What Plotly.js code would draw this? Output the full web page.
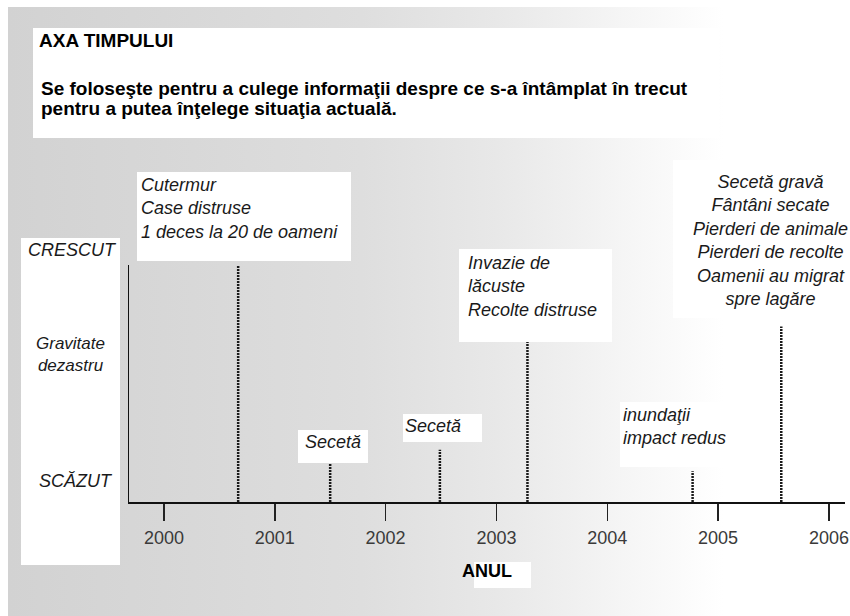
<!DOCTYPE html>
<html>
<head>
<meta charset="utf-8">
<script src="https://cdn.plot.ly/plotly-3.0.1.min.js"></script>
<style>
  html, body { margin: 0; padding: 0; background: #ffffff; }
  #chart {
    width: 850px; height: 616px;
    background: linear-gradient(to right, #d2d2d2 0%, #d8d8d8 22%, #dedede 42%, #e8e8e8 58%, #f5f5f5 73%, #ffffff 85%) 8px 7px / 842px 609px no-repeat, #ffffff;
  }
</style>
</head>
<body>
<div id="chart"></div>
<script>
// ---- data ----
const years = [2000, 2001, 2002, 2003, 2004, 2005, 2006];
const yearLabels = ['2000', '2001', '2002', '2003', '2004', '2005', '2006'];
const eventNames = ['Cutremur', 'Secetă', 'Secetă', 'Invazie de lăcuste', 'Inundații', 'Secetă gravă'];
const eventTimes = [2000.67, 2001.50, 2002.49, 2003.28, 2004.77, 2005.57];
const eventSeverity = [10.1, 1.6, 2.2, 6.75, 1.3, 7.4];
const eventTexts = [
  'Cutermur<br>Case distruse<br>1 deces la 20 de oameni',
  'Secetă',
  'Secetă',
  'Invazie de<br>lăcuste<br>Recolte distruse',
  'inundaţii<br>impact redus',
  'Secetă gravă<br>Fântâni secate<br>Pierderi de animale<br>Pierderi de recolte<br>Oamenii au migrat<br>spre lagăre'
];
const titleText = 'AXA TIMPULUI';
const subtitleLines = [
  'Se foloseşte pentru a culege informaţii despre ce s-a întâmplat în trecut',
  'pentru a putea înţelege situaţia actuală.'
];
const axisLabels = { high: 'CRESCUT', mid: 'Gravitate<br>dezastru', low: 'SCĂZUT', x: 'ANUL' };

// ---- geometry helpers (pixel -> paper fraction) ----
const L = 129, R = 845, T = 265, B = 502;
const fx = px => (px - L) / (R - L);
const fy = py => (B - py) / (B - T);

const FONT = 'Liberation Sans, Arial, Helvetica, sans-serif';
const ital = (size) => ({ family: FONT, size: size, color: '#1a1a1a', style: 'italic' });
const bold = (size) => ({ family: FONT, size: size, color: '#000', weight: 'bold' });

// ---- traces: one dotted stem per event ----
const traces = eventTimes.map((t, i) => ({
  type: 'scatter',
  mode: 'lines',
  x: [t, t],
  y: [0, eventSeverity[i]],
  name: eventNames[i],
  line: { color: '#1a1a1a', width: 2.5, dash: '2px,1px' },
  hoverinfo: 'x+name',
  cliponaxis: false,
  showlegend: false
}));

// ---- white boxes (decoration) ----
const boxes = [
  [33, 28, 719, 138],   // title box
  [21, 238, 120, 565],  // y labels box
  [137, 172, 351, 261], // earthquake
  [298, 430, 368, 463], // drought 1
  [403, 414, 482, 442], // drought 2
  [459, 249, 612, 342], // locusts
  [620, 402, 727, 467], // floods
  [673, 160, 850, 318], // severe drought
  [474, 562, 531, 588]  // ANUL
];
const shapes = boxes.map(b => ({
  type: 'rect', xref: 'paper', yref: 'paper', layer: 'below',
  x0: fx(b[0]), x1: fx(b[2]), y0: fy(b[3]), y1: fy(b[1]),
  fillcolor: '#ffffff', line: { width: 0 }
}));

// ---- annotation placement (pixels) ----
const labelPos = [
  { x: 139, y: 208, xa: 'left', al: 'left' },
  { x: 333, y: 442, xa: 'center', al: 'center' },
  { x: 433, y: 426, xa: 'center', al: 'center' },
  { x: 466, y: 286, xa: 'left', al: 'left' },
  { x: 621, y: 426, xa: 'left', al: 'left' },
  { x: 770, y: 241, xa: 'center', al: 'center' }
];
const annotations = eventTexts.map((txt, i) => ({
  text: txt, xref: 'paper', yref: 'paper',
  x: fx(labelPos[i].x), y: fy(labelPos[i].y),
  xanchor: labelPos[i].xa, yanchor: 'middle', align: labelPos[i].al,
  showarrow: false, font: ital(18)
}));
annotations.push(
  { text: axisLabels.high, xref: 'paper', yref: 'paper', x: fx(72), y: fy(250), xanchor: 'center', yanchor: 'middle', showarrow: false, font: ital(18) },
  { text: axisLabels.mid, xref: 'paper', yref: 'paper', x: fx(70), y: fy(354), xanchor: 'center', yanchor: 'middle', align: 'center', showarrow: false, font: ital(17) },
  { text: axisLabels.low, xref: 'paper', yref: 'paper', x: fx(76), y: fy(481), xanchor: 'center', yanchor: 'middle', showarrow: false, font: ital(18) },
  { text: subtitleLines[0], xref: 'paper', yref: 'paper', x: fx(39), y: fy(88), xanchor: 'left', yanchor: 'middle', showarrow: false, font: bold(19) },
  { text: subtitleLines[1], xref: 'paper', yref: 'paper', x: fx(39), y: fy(108), xanchor: 'left', yanchor: 'middle', showarrow: false, font: bold(19) }
);

const layout = {
  width: 850, height: 616,
  margin: { l: L, r: 850 - R, t: T, b: 616 - B, pad: 0 },
  paper_bgcolor: 'rgba(0,0,0,0)',
  plot_bgcolor: 'rgba(0,0,0,0)',
  title: {
    text: titleText,
    xref: 'container', yref: 'container',
    x: 39 / 850, xanchor: 'left',
    y: 1 - 40 / 616, yanchor: 'middle',
    font: bold(19)
  },
  xaxis: {
    range: [1999.685, 2006.145],
    tickvals: years, ticktext: yearLabels,
    ticks: 'outside', ticklen: 17, tickwidth: 1.5, tickcolor: '#222',
    ticklabelstandoff: 2,
    tickfont: { family: FONT, size: 18, color: '#3a3a3a' },
    showline: true, linecolor: '#111', linewidth: 1.5,
    showgrid: false, zeroline: false, fixedrange: true,
    title: { text: axisLabels.x, standoff: 17, font: bold(18) }
  },
  yaxis: {
    range: [0, 10],
    showticklabels: false, ticks: '',
    showline: true, linecolor: '#111', linewidth: 1.5,
    showgrid: false, zeroline: false, fixedrange: true
  },
  shapes: shapes,
  annotations: annotations,
  showlegend: false
};

Plotly.newPlot('chart', traces, layout, { displayModeBar: false, staticPlot: true });
</script>
</body>
</html>
